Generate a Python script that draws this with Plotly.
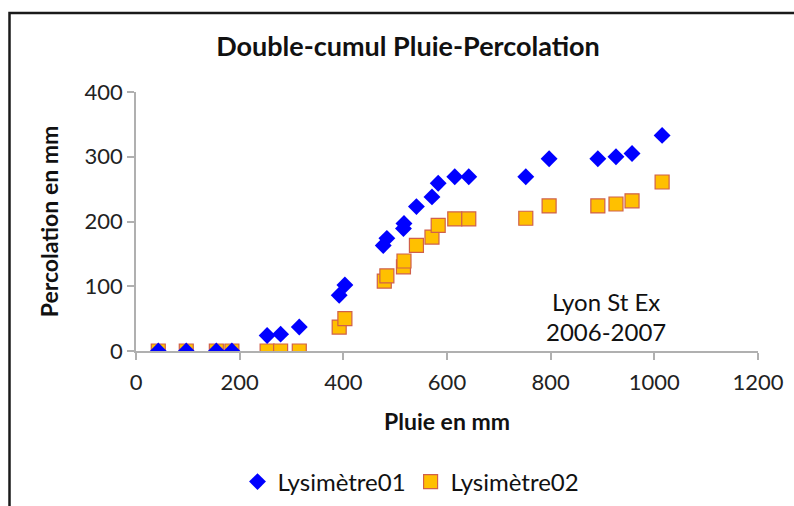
import plotly.graph_objects as go

pluie1 = [43, 97, 155, 185, 253, 279, 315, 392, 403, 477, 484, 516, 517, 541, 571, 583, 615, 642, 752, 797, 891, 926, 957, 1015]
perc1 = [0, 0, 0, 0, 24, 26, 37, 86, 102, 163, 174, 189, 197, 223, 238, 259, 269, 269, 269, 297, 297, 300, 305, 333]

pluie2 = [43, 97, 155, 185, 253, 279, 315, 392, 403, 479, 484, 516, 517, 541, 571, 583, 615, 642, 752, 797, 891, 926, 957, 1015]
perc2 = [0, 0, 0, 0, 0, 0, 0, 37, 50, 108, 116, 130, 139, 163, 176, 194, 204, 204, 205, 224, 224, 227, 232, 261]

x_ticks = [0, 200, 400, 600, 800, 1000, 1200]
y_ticks = [0, 100, 200, 300, 400]

FONT = "Lato, 'Open Sans', sans-serif"
W, H = 794, 506
L, R, T, B = 136, 36, 92, 155
pw, ph = W - L - R, H - T - B

def px_x(p):
    return (p - L) / pw

def px_y(p):
    return (H - B - p) / ph

fig = go.Figure()
fig.add_trace(go.Scatter(
    x=pluie2, y=perc2, mode="markers", name="Lysimètre02", legendrank=2,
    marker=dict(symbol="square", size=14, color="#FFC000",
                line=dict(color="#D0604A", width=1.2)),
))
fig.add_trace(go.Scatter(
    x=pluie1, y=perc1, mode="markers", name="Lysimètre01", legendrank=1,
    marker=dict(symbol="diamond", size=13, color="#0000FF",
                line=dict(width=0)),
))

axis_col = "#B0B0B0"
fig.update_layout(
    width=W, height=H,
    margin=dict(l=L, r=R, t=T, b=B, autoexpand=False),
    paper_bgcolor="white", plot_bgcolor="white",
    font=dict(family=FONT, size=22, color="#222"),
    title=dict(text="<b>Double-cumul Pluie-Percolation</b>",
               x=408 / W, xanchor="center", y=1 - 47 / H, yanchor="middle",
               font=dict(size=27, color="#111", family=FONT)),
    xaxis=dict(range=[0, 1200], tickvals=x_ticks, showgrid=False, zeroline=False,
               showline=True, linecolor=axis_col, linewidth=1.5, automargin=False,
               ticks="outside", ticklen=7, tickcolor=axis_col, tickwidth=1.5,
               ticklabelstandoff=4,
               tickfont=dict(size=22, color="#222"),
               title=dict(text="<b>Pluie en mm</b>", font=dict(size=23, color="#111"), standoff=20)),
    yaxis=dict(range=[0, 400], tickvals=y_ticks, showgrid=False, zeroline=False,
               showline=True, linecolor=axis_col, linewidth=1.5, automargin=False,
               ticks="outside", ticklen=7, tickcolor=axis_col, tickwidth=1.5,
               tickfont=dict(size=22, color="#222"),
               title=dict(text="<b>Percolation en mm</b>", font=dict(size=23, color="#111"), standoff=20)),
    legend=dict(orientation="h", x=px_x(411), xanchor="center", y=px_y(482), yanchor="middle",
                font=dict(size=24, color="#111"), itemwidth=30, tracegroupgap=0,
                bgcolor="rgba(0,0,0,0)"),
    showlegend=True,
)

fig.add_annotation(x=px_x(606), y=px_y(301), xref="paper", yref="paper",
                   text="Lyon St Ex", showarrow=False,
                   font=dict(size=24, color="#111"), xanchor="center", yanchor="middle")
fig.add_annotation(x=px_x(606), y=px_y(331), xref="paper", yref="paper",
                   text="2006-2007", showarrow=False,
                   font=dict(size=24, color="#111"), xanchor="center", yanchor="middle")

fig.add_shape(type="rect", xref="paper", yref="paper",
              x0=px_x(9.5), x1=px_x(805), y0=px_y(520), y1=px_y(13),
              line=dict(color="#1a1a1a", width=2.5), fillcolor="rgba(0,0,0,0)", layer="below")

fig.write_html("out.html")
